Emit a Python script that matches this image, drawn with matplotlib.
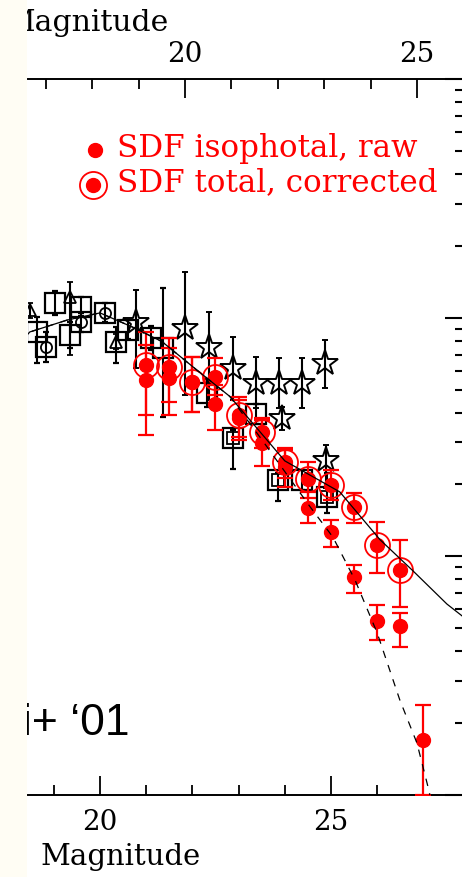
import numpy as np
import matplotlib
matplotlib.use("Agg")
import matplotlib.pyplot as plt
from matplotlib.patches import Rectangle

plt.rcParams['font.family'] = ['DejaVu Serif', 'DejaVu Sans']

# ---------------- data (magnitude, log10 counts) ----------------
bins = [21.0, 21.5, 22.0, 22.5, 23.0, 23.5, 24.0, 24.5, 25.0, 25.5, 26.0, 26.5, 27.0]

raw_y  = [3.739, 3.747, 3.730, 3.638, 3.579, 3.475, 3.374, 3.202, 3.102, 2.913, 2.729, 2.708, 2.230]
raw_hi = [3.885, 3.873, 3.835, 3.718, 3.655, 3.571, 3.445, 3.269, 3.152, 2.964, 2.796, 2.762, 2.377]
raw_lo = [3.508, 3.592, 3.605, 3.529, 3.487, 3.378, 3.290, 3.140, 3.039, 2.846, 2.649, 2.620, 2.000]

cor_y  = [3.801, 3.793, 3.730, 3.751, 3.592, 3.521, 3.395, 3.324, 3.299, 3.207, 3.047, 2.943]
cor_hi = [3.940, 3.915, 3.835, 3.831, 3.667, 3.579, 3.454, 3.395, 3.362, 3.265, 3.144, 3.068]
cor_lo = [3.592, 3.646, 3.605, 3.676, 3.500, 3.454, 3.328, 3.244, 3.236, 3.140, 2.930, 2.788]

sq_x  = [18.64, 19.03, 19.35, 19.59, 20.35, 20.61, 21.10, 21.36, 22.32, 23.38, 24.37]
sq_y  = [3.940, 4.061, 3.927, 4.044, 3.898, 3.949, 3.915, 3.873, 3.684, 3.596, 3.320]
sq_hi = [4.003, 4.110, 3.980, 4.085, 3.960, 3.990, 3.965, 4.124, 3.745, 3.640, 3.360]
sq_lo = [3.810, 4.010, 3.875, 4.005, 3.810, 3.910, 3.865, 3.584, 3.625, 3.555, 3.280]

sqc_x  = [18.83, 19.59, 20.11]
sqc_y  = [3.877, 3.982, 4.019]
sqc_hi = [3.940, 4.020, 4.060]
sqc_lo = [3.815, 3.940, 3.980]

dsq_x  = [22.88, 23.85, 24.91]
dsq_y  = [3.496, 3.320, 3.248]
dsq_hi = [3.530, 3.350, 3.350]
dsq_lo = [3.366, 3.230, 3.180]

star_x  = [20.78, 21.85, 22.35, 22.87, 23.37, 23.87, 24.37, 24.87]
star_y  = [3.982, 3.956, 3.877, 3.789, 3.726, 3.726, 3.726, 3.810]
star_hi = [4.116, 4.191, 4.023, 3.919, 3.835, 3.831, 3.831, 3.906]
star_lo = [3.789, 3.676, 3.655, 3.655, 3.621, 3.621, 3.621, 3.705]

star2_x  = [23.95, 24.90]
star2_y  = [3.579, 3.403]
star2_hi = [3.625, 3.466]
star2_lo = [3.529, 3.286]

tri_x  = [18.48, 19.35, 20.35]
tri_y  = [4.032, 4.086, 3.898]
tri_hi = [4.060, 4.149, 3.930]
tri_lo = [4.000, 3.843, 3.870]

model_x = [18.30, 18.48, 19.29, 20.00, 20.71, 21.34, 22.10, 22.81, 24.00, 25.19, 26.06, 26.77, 27.51, 27.84, 28.0]
model_y = [3.90, 3.94, 3.99, 4.02, 3.96, 3.90, 3.78, 3.67, 3.40, 3.27, 3.07, 2.94, 2.80, 2.75, 2.72]

dash_x = [18.30, 18.48, 19.29, 20.00, 20.71, 21.34, 22.10, 22.81, 23.51, 24.55, 25.04, 25.52, 26.00, 26.49, 26.86, 27.10, 27.20]
dash_y = [3.90, 3.94, 3.99, 4.02, 3.96, 3.90, 3.78, 3.67, 3.487, 3.207, 3.081, 2.901, 2.679, 2.398, 2.218, 2.034, 1.95]

bottom_ticks = [20, 25]
top_ticks = [20, 25]
legend_labels = ["SDF isophotal, raw", "SDF total, corrected"]
corner_text = "i+ \u201801"

# ---------------- figure ----------------
W, H = 462, 877
fig = plt.figure(figsize=(W / 100, H / 100), dpi=100)
ax = fig.add_axes([28 / W, 82 / H, 436 / W, 716 / H])

p = lambda v: 10 ** np.asarray(v, dtype=float)

def errs(y, lo, hi):
    y = p(y)
    return np.vstack([y - p(lo), p(hi) - y])

blk = dict(color='black', lw=1.5, capsize=2.5, capthick=1.5, ls='none')

# black data
ax.errorbar(sq_x, p(sq_y), yerr=errs(sq_y, sq_lo, sq_hi), marker='s', ms=14.5,
            mfc='none', mec='black', mew=1.6, zorder=2, **blk)
ax.errorbar(sqc_x, p(sqc_y), yerr=errs(sqc_y, sqc_lo, sqc_hi), marker='s', ms=14.5,
            mfc='none', mec='black', mew=1.6, zorder=2, **blk)
ax.plot(sqc_x, p(sqc_y), ls='none', marker='o', ms=8, mfc='none', mec='black', mew=1.3, zorder=2)
ax.errorbar(dsq_x, p(dsq_y), yerr=errs(dsq_y, dsq_lo, dsq_hi), marker='s', ms=14.5,
            mfc='none', mec='black', mew=1.6, zorder=2, **blk)
ax.plot(dsq_x, p(dsq_y), ls='none', marker='s', ms=8, mfc='none', mec='black', mew=1.3, zorder=2)
ax.errorbar(star_x, p(star_y), yerr=errs(star_y, star_lo, star_hi), marker='*', ms=19,
            mfc='none', mec='black', mew=1.4, zorder=2, **blk)
ax.errorbar(star2_x, p(star2_y), yerr=errs(star2_y, star2_lo, star2_hi), marker='*', ms=19,
            mfc='none', mec='black', mew=1.4, zorder=2, **blk)
ax.errorbar(tri_x, p(tri_y), yerr=errs(tri_y, tri_lo, tri_hi), marker='^', ms=9,
            mfc='none', mec='black', mew=1.3, zorder=2, **blk)

# red data
red = '#ff0000'
ax.errorbar(bins[:len(cor_y)], p(cor_y), yerr=errs(cor_y, cor_lo, cor_hi), ls='none',
            color=red, lw=1.6, capsize=6, capthick=1.6, marker='o', ms=10,
            mfc=red, mec=red, zorder=3)
ax.plot(bins[:len(cor_y)], p(cor_y), ls='none', marker='o', ms=18, mfc='none',
        mec=red, mew=1.3, zorder=3)
ax.errorbar(bins, p(raw_y), yerr=errs(raw_y, raw_lo, raw_hi), ls='none',
            color=red, lw=1.6, capsize=6, capthick=1.6, marker='o', ms=10,
            mfc=red, mec=red, zorder=3)

# model lines
ax.plot(model_x, p(model_y), color='black', lw=0.9, zorder=4)
ax.plot(dash_x, p(dash_y), color='black', lw=0.9, ls=(0, (6, 6)), zorder=4)

# axes setup
ax.set_yscale('log')
ax.set_xlim(18.442, 27.879)
ax.set_ylim(1e2, 1e5)
ax.set_xticks(bottom_ticks)
ax.set_xticks(range(19, 28), minor=True)
ax.set_xticklabels([str(t) for t in bottom_ticks])
ax.tick_params(axis='x', which='major', direction='in', length=14, width=1.3,
               labelsize=20, pad=10, top=False)
ax.tick_params(axis='x', which='minor', direction='in', length=7, width=1.3, top=False)
ax.yaxis.tick_right()
ax.tick_params(axis='y', which='major', direction='in', length=14, width=1.5,
               labelright=False, labelleft=False)
ax.tick_params(axis='y', which='minor', direction='in', length=6.5, width=1.5,
               labelright=False, labelleft=False)
for s in ('left', 'top'):
    ax.spines[s].set_visible(False)
ax.spines['bottom'].set_linewidth(1.4)
ax.spines['right'].set_linewidth(1.4)
ax.set_xlabel('Magnitude', fontsize=21)
ax.xaxis.set_label_coords(0.213, -0.067)

ax2 = ax.twiny()
ax2.set_xlim(16.616, 26.013)
ax2.set_xticks(top_ticks)
ax2.set_xticks(range(17, 27), minor=True)
ax2.set_xticklabels([str(t) for t in top_ticks])
ax2.tick_params(axis='x', which='major', direction='in', length=14, width=1.3,
                labelsize=20, pad=8)
ax2.tick_params(axis='x', which='minor', direction='in', length=7, width=1.3)
for s in ('left', 'right', 'bottom'):
    ax2.spines[s].set_visible(False)
ax2.spines['top'].set_linewidth(1.4)
ax2.set_xlabel('Magnitude', fontsize=21.5)
ax2.xaxis.set_label_coords(0.135, 1.067)

# legend (manual)
ax.plot([0.1537], [0.9008], transform=ax.transAxes, marker='o', ms=10, color=red,
        ls='none', clip_on=False, zorder=5)
ax.plot([0.149], [0.852], transform=ax.transAxes, marker='o', ms=10, color=red,
        ls='none', clip_on=False, zorder=5)
ax.plot([0.149], [0.852], transform=ax.transAxes, marker='o', ms=19.5, mfc='none',
        mec=red, mew=1.3, ls='none', clip_on=False, zorder=5)
ax.text(0.204, 0.9036, legend_labels[0], transform=ax.transAxes, color=red,
        fontsize=22.3, va='center', ha='left')
ax.text(0.204, 0.8547, legend_labels[1], transform=ax.transAxes, color=red,
        fontsize=22.3, va='center', ha='left')

# corner annotation
fig.text(130 / W, (H - 735) / H, corner_text, family=['Liberation Sans', 'DejaVu Sans'],
         fontsize=32, ha='right', va='baseline', color='black')

# cream strip on the left edge
fig.add_artist(Rectangle((0, 0), 27 / W, 1, transform=fig.transFigure,
                         facecolor='#fffdf4', edgecolor='none', zorder=100))

fig.savefig('out.png', dpi=100)
